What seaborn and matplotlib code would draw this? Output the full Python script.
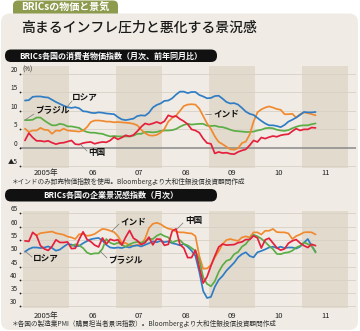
import numpy as np
import pandas as pd
import matplotlib
matplotlib.use("Agg")
import matplotlib.pyplot as plt
import matplotlib.transforms as mtransforms
from matplotlib.patches import FancyBboxPatch
import seaborn as sns

# ---------------- data (monthly, Jan 2005 - Apr 2011) ----------------
months = pd.date_range("2005-01-01", "2011-04-01", freq="MS")

# consumer prices, y/y % (India: wholesale prices)
cpi_russia = [12.7, 12.8, 13.7, 13.8, 13.8, 13.6, 13.5, 12.9, 12.3, 11.8, 11.3, 10.9,
              10.7, 10.9, 10.6, 9.8, 9.7, 9.4, 9.3, 9.5, 9.4, 9.2, 9.1, 9.0,
              8.2, 7.6, 7.4, 7.6, 7.8, 8.5, 8.7, 8.6, 9.4, 10.8, 11.5, 11.9,
              12.6, 12.7, 13.3, 14.3, 15.1, 15.1, 14.7, 15.0, 15.0, 14.2, 13.8, 13.3,
              13.4, 13.9, 14.0, 13.2, 12.3, 11.9, 12.0, 11.6, 10.7, 9.7, 9.1, 8.8,
              8.0, 7.2, 6.5, 6.0, 6.0, 5.8, 5.5, 6.1, 7.0, 7.5, 8.1, 8.8,
              9.6, 9.5, 9.5, 9.6]
cpi_brazil = [7.4, 7.4, 7.5, 8.1, 8.1, 7.3, 6.6, 6.0, 6.0, 6.4, 6.2, 5.7,
              5.7, 5.5, 5.3, 4.6, 4.2, 4.0, 4.0, 3.8, 3.7, 3.3, 3.0, 3.1,
              3.0, 3.0, 3.0, 3.0, 3.2, 3.7, 3.7, 4.2, 4.2, 4.1, 4.2, 4.5,
              4.6, 4.6, 4.7, 5.0, 5.6, 6.1, 6.4, 6.2, 6.3, 6.4, 6.4, 5.9,
              5.8, 5.9, 5.6, 5.5, 5.2, 4.8, 4.5, 4.4, 4.3, 4.2, 4.2, 4.3,
              4.6, 4.8, 5.2, 5.3, 5.2, 4.8, 4.6, 4.5, 4.7, 5.2, 5.6, 5.9,
              6.0, 6.0, 6.3, 6.5]
cpi_india = [5.1, 4.2, 4.6, 4.6, 5.3, 4.8, 4.7, 3.7, 4.6, 4.5, 5.1, 4.6,
             4.5, 4.4, 4.3, 4.6, 5.5, 6.9, 7.3, 7.3, 7.2, 7.0, 7.0, 6.8,
             6.9, 6.8, 6.7, 6.6, 6.4, 6.0, 4.8, 3.9, 3.3, 3.2, 3.4, 4.0,
             5.0, 7.0, 8.0, 8.6, 9.9, 11.2, 11.6, 11.7, 11.6, 10.5, 8.5, 6.5,
             5.0, 3.0, 1.5, 0.9, 0.2, -0.5, -0.6, -0.2, 1.2, 1.6, 3.5, 7.0,
             9.5, 10.3, 10.8, 11.1, 10.8, 10.4, 10.2, 9.0, 9.0, 9.1, 8.1, 9.0,
             9.5, 9.3, 9.0, 8.7]
cpi_china = [1.9, 3.9, 2.7, 1.8, 1.8, 1.6, 1.8, 1.3, 0.9, 1.2, 1.3, 1.6,
             1.9, 0.9, 0.8, 1.2, 1.4, 1.5, 1.0, 1.3, 1.5, 1.4, 1.9, 2.8,
             2.2, 2.7, 3.3, 3.0, 3.4, 4.4, 5.6, 6.5, 6.2, 6.5, 6.9, 6.5,
             7.1, 8.7, 8.3, 8.5, 7.7, 7.1, 6.3, 4.9, 4.6, 4.0, 2.4, 1.2,
             1.0, -1.6, -1.2, -1.5, -1.4, -1.7, -1.8, -1.2, -0.8, -0.5, 0.6, 1.9,
             1.5, 2.7, 2.4, 2.8, 3.1, 2.9, 3.3, 3.5, 3.6, 4.4, 5.1, 4.6,
             4.9, 4.9, 5.4, 5.3]

# manufacturing PMI
nan = np.nan
pmi_russia = [50.6, 51.6, 52.2, 52.2, 52.0, 52.2, 52.6, 52.0, 51.0, 51.4, 52.5, 53.5,
              53.3, 52.6, 52.8, 53.8, 54.6, 55.3, 55.6, 55.8, 54.8, 53.2, 52.2, 52.0,
              52.2, 52.0, 52.5, 52.2, 52.8, 53.0, 52.6, 53.2, 53.8, 54.5, 54.2, 54.7,
              54.2, 54.5, 53.8, 53.5, 53.0, 53.5, 52.5, 51.0, 49.0, 43.0, 35.8, 33.2,
              33.6, 37.4, 40.0, 41.5, 43.5, 45.0, 46.5, 48.5, 49.7, 50.4, 49.0, 48.5,
              50.4, 50.9, 51.5, 52.2, 52.5, 52.0, 52.5, 52.0, 52.2, 52.2, 51.8, 52.5,
              54.0, 55.4, 52.8, 50.6]
pmi_brazil = [nan] * 12 + [
              52.8, 53.4, 53.0, 52.0, 50.3, 49.7, 50.0, 50.0, 51.7, 55.4, 54.0, 53.4,
              54.0, 53.3, 52.5, 53.4, 54.0, 54.3, 54.0, 54.5, 55.4, 55.4, 56.6, 57.3,
              56.5, 56.0, 54.0, 54.7, 55.0, 53.5, 53.0, 52.0, 50.9, 47.5, 41.0, 38.5,
              37.6, 39.5, 43.0, 45.5, 47.2, 47.7, 49.7, 50.5, 52.5, 53.5, 55.4, 57.0,
              56.4, 55.5, 54.3, 52.8, 51.6, 49.8, 49.7, 50.2, 50.4, 51.0, 52.2, 52.8,
              54.1, 53.5, 52.8, 50.3]
pmi_india = [nan, nan, nan, 56.8, 57.6, 57.8, 58.0, 58.2, 57.6, 57.3, 57.0, 56.3,
             56.0, 55.4, 57.2, 57.3, 56.6, 56.8, 57.3, 58.3, 59.2, 59.0, 58.5, 58.0,
             56.5, 54.0, 53.9, 53.0, 52.8, 53.2, 53.5, 55.5, 59.5, 61.1, 61.5, 61.0,
             60.0, 59.3, 59.0, 58.2, 57.9, 57.9, 57.6, 57.5, 56.5, 49.0, 44.2, 44.3,
             45.6, 48.5, 50.8, 53.5, 55.0, 55.4, 55.0, 54.7, 56.0, 56.4, 56.0, 57.9,
             57.9, 57.1, 58.5, 58.5, 59.2, 58.0, 57.9, 57.9, 57.5, 55.4, 56.5, 57.1,
             57.9, 58.0, 57.9, 57.1]
pmi_china = [54.7, 54.5, 57.9, 56.7, 52.9, 51.7, 51.1, 52.6, 55.1, 54.1, 54.1, 54.3,
             51.8, 51.9, 55.3, 58.1, 55.3, 54.4, 53.1, 52.4, 55.8, 53.5, 55.3, 54.8,
             55.1, 53.1, 56.1, 58.6, 55.7, 54.8, 53.3, 54.0, 56.1, 53.2, 55.4, 55.3,
             53.0, 53.4, 58.4, 59.2, 53.3, 52.0, 48.4, 48.4, 51.2, 44.6, 38.8, 41.2,
             45.3, 49.0, 52.4, 53.5, 53.1, 53.2, 53.3, 54.0, 54.3, 55.2, 55.2, 56.6,
             55.8, 52.0, 55.1, 55.7, 53.9, 52.1, 51.2, 51.7, 53.8, 54.7, 55.2, 53.9,
             52.9, 52.2, 53.4, 52.9]

countries = ["ロシア", "ブラジル", "インド", "中国"]
year_labels = ["2005年", "06", "07", "08", "09", "10", "11"]
cpi_ticks = [-5, 0, 5, 10, 15, 20]
cpi_tick_labels = ["▲5", "0", "5", "10", "15", "20"]
pmi_ticks = [30, 35, 40, 45, 50, 55, 60, 65]
pmi_tick_labels = ["30", "35", "40", "45", "50", "55", "60", "65"]

# ---------------- style ----------------
palette = {"ロシア": "#2f7dc4", "ブラジル": "#5dad47", "インド": "#f08a30", "中国": "#e4203d"}
CARD = "#f0ece5"
BAND = "#e2dacd"
GRID = "#d7d0c5"

sns.set_theme(style="white")
plt.rcParams["font.family"] = ["Noto Sans CJK JP", "DejaVu Sans"]
plt.rcParams["axes.unicode_minus"] = False

W, H = 360, 331
fig = plt.figure(figsize=(W / 100, H / 100), dpi=100, facecolor="white")


def px_axes(x0, y0, x1, y1):
    return fig.add_axes([x0 / W, 1 - y1 / H, (x1 - x0) / W, (y1 - y0) / H])


bg = px_axes(0, 0, W, H)
bg.set_xlim(0, W)
bg.set_ylim(H, 0)
bg.axis("off")
bg.add_patch(FancyBboxPatch((13, 0.5), 105, 20, boxstyle="round,pad=0,rounding_size=5",
                            fc="#8d9b4e", ec="none"))
bg.add_patch(FancyBboxPatch((1, 13.5), 357, 316.5, boxstyle="round,pad=0,rounding_size=9",
                            fc=CARD, ec="none"))
bg.text(65.5, 7, "BRICsの物価と景気", color="white", fontsize=7.2, fontweight="bold",
        ha="center", va="center")
bg.text(21, 27.5, "高まるインフレ圧力と悪化する景況感", fontsize=10, fontweight="medium",
        ha="left", va="center", color="#1a1a1a")
for y0, txt in [(49.5, "BRICs各国の消費者物価指数（月次、前年同月比）"),
                (189, "BRICs各国の企業景況感指数（月次）")]:
    bg.add_patch(FancyBboxPatch((5, y0), 212, 12.5, boxstyle="round,pad=0,rounding_size=6",
                                fc="#111111", ec="none"))
    bg.text(111, y0 + 6.4, txt, color="white", fontsize=5.8, fontweight="bold",
            ha="center", va="center")
bg.text(12, 181.5, "＊インドのみ卸売物価指数を使用。Bloombergより大和住銀投信投資顧問作成",
        fontsize=4.8, color="#333333", va="center")
bg.text(12, 323.5, "＊各国の製造業PMI（購買担当者景況指数）。Bloombergより大和住銀投信投資顧問作成",
        fontsize=4.8, color="#333333", va="center")

t = months.year + (months.month - 0.5) / 12


def long_df(series):
    frames = [pd.DataFrame({"t": t, "v": vals, "国": name}) for name, vals in series.items()]
    return pd.concat(frames, ignore_index=True).dropna()


def panel(ax, df, order, ticks, ticklabels, ylim, xpad, zero=False):
    ax.set_facecolor("none")
    for y in range(2005, 2012, 2):
        ax.axvspan(y, y + 1, color=BAND, lw=0, zorder=0)
    for v in ticks:
        if zero and v == 0:
            continue
        ax.axhline(v, color=GRID, lw=0.6, zorder=0.5)
    if zero:
        ax.axhline(0, color="#8a8a8a", lw=1.1, zorder=0.6)
    sns.lineplot(data=df, x="t", y="v", hue="国", hue_order=order, palette=palette,
                 estimator=None, legend=False, lw=1.25, ax=ax)
    ax.set_xlim(2005 - 3 / 46.5, 2005 + 333 / 46.5)
    ax.set_ylim(*ylim)
    ax.set_xticks([y + 0.5 for y in range(2005, 2012)], year_labels)
    ax.set_yticks(ticks, ticklabels)
    ax.tick_params(axis="x", length=0, labelsize=5.5, pad=xpad, labelcolor="#222222")
    ax.tick_params(axis="y", length=0, labelsize=4.6, pad=1.8, labelcolor="#222222")
    for lb in ax.get_yticklabels():
        lb.set_va("bottom")
    for s in ax.spines.values():
        s.set_visible(False)
    ax.set_xlabel("")
    ax.set_ylabel("")
    trans = mtransforms.blended_transform_factory(ax.transAxes, ax.transData)
    ax.scatter([-0.5 / 336] * len(ticks), ticks, s=1.6, color="#222222", transform=trans,
               clip_on=False, zorder=5, lw=0)


ax1 = px_axes(20, 66, 356, 168)
df1 = long_df({"ロシア": cpi_russia, "ブラジル": cpi_brazil, "インド": cpi_india, "中国": cpi_china})
panel(ax1, df1, ["ブラジル", "インド", "ロシア", "中国"], cpi_ticks, cpi_tick_labels,
      (-5.54, 22.03), 0.8, zero=True)

ax2 = px_axes(20, 211, 356, 308)
df2 = long_df({"ロシア": pmi_russia, "ブラジル": pmi_brazil, "インド": pmi_india, "中国": pmi_china})
panel(ax2, df2, ["インド", "ロシア", "ブラジル", "中国"], pmi_ticks, pmi_tick_labels,
      (29.43, 65.94), 2.6)

# overlay: unit and series labels with leader lines
ov = px_axes(0, 0, W, H)
ov.set_xlim(0, W)
ov.set_ylim(H, 0)
ov.axis("off")
ov.text(22, 70, "(%)", fontsize=4.5, color="#222222", va="center")
labels = [
    ("ロシア", 72, 98, (67, 107), (72, 101)),
    ("ブラジル", 35, 111, (25, 120), (34, 114)),
    ("中国", 88, 153, (80, 144), (87, 151)),
    ("インド", 213, 114, (205, 114), (211, 114)),
    ("インド", 120, 222, (112, 231), (119, 224)),
    ("中国", 185, 221, (177, 229), (183, 223)),
    ("ロシア", 33, 259, (25, 251), (32, 257)),
    ("ブラジル", 108, 261, (100, 251), (107, 258)),
]
for txt, x, y, p0, p1 in labels:
    ov.plot([p0[0], p1[0]], [p0[1], p1[1]], color="#777777", lw=0.5)
    ov.text(x, y, txt, fontsize=6.2, fontweight="bold", color="#111111", ha="left", va="center")

fig.savefig("out.png", dpi=100, facecolor="white")
